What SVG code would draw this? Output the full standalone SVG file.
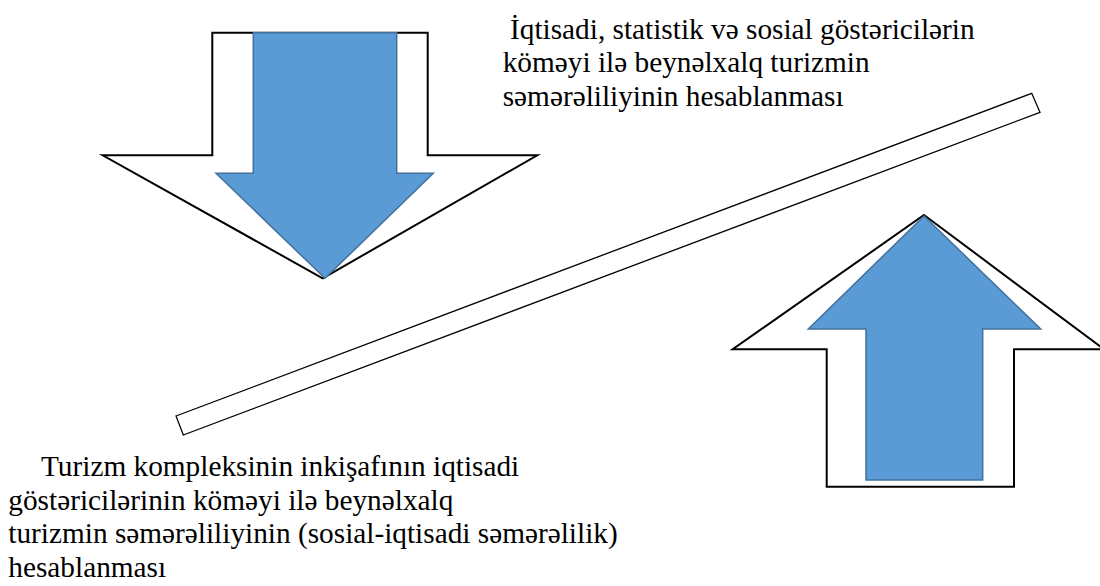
<svg xmlns="http://www.w3.org/2000/svg" width="1100" height="586" viewBox="0 0 1100 586">
<style>
.outline{fill:#ffffff;stroke:#000000;stroke-width:2;stroke-linejoin:miter}
.blue{fill:#5B9BD5;stroke:#41719C;stroke-width:1.5}
.bar{fill:#ffffff;stroke:#000000;stroke-width:1.3}
.t{font-family:"Liberation Serif","Times New Roman","DejaVu Serif",serif;font-size:29.3px;fill:#000000}
</style>
<rect width="1100" height="586" fill="#ffffff"/>
<g id="down-arrow">
<polygon class="outline" points="212.3,32.7 427.7,32.7 427.7,155.3 537.3,155.3 322.7,278.3 102.7,155.3 212.3,155.3"/>
<polygon class="blue" points="253.3,32.7 396.7,32.7 396.7,173.3 433.3,173.3 325,278.3 216,173.3 253.3,173.3"/>
</g>
<g id="up-arrow">
<polygon class="outline" points="924,215 1104,349.3 1014,349.3 1014,486.7 826.7,486.7 826.7,349.3 732.7,349.3"/>
<polygon class="blue" points="924,216 1040.7,329 982.7,329 982.7,480 866,480 866,329 808.3,329"/>
</g>
<g id="connectors">
<polygon class="bar" points="176,416 1031.7,93.3 1040,112.3 183.3,435"/>
</g>
<g id="text-top">
<text class="t"><tspan x="510" y="38.6">İqtisadi, statistik və sosial göstəricilərin</tspan><tspan x="502.7" y="72.3">köməyi ilə beynəlxalq turizmin</tspan><tspan x="502.7" y="106">səmərəliliyinin hesablanması</tspan></text>
</g>
<g id="text-bottom">
<text class="t"><tspan x="41" y="476">Turizm kompleksinin inkişafının iqtisadi</tspan><tspan x="8.3" y="509.7">göstəricilərinin köməyi ilə beynəlxalq</tspan><tspan x="8.3" y="543.4">turizmin səmərəliliyinin (sosial-iqtisadi səmərəlilik)</tspan><tspan x="8.3" y="577">hesablanması</tspan></text>
</g>
</svg>
